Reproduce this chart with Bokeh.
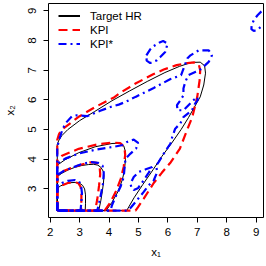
from bokeh.plotting import figure
from bokeh.models import Range1d, Legend, LegendItem, FixedTicker
from bokeh.embed import file_html
from bokeh.resources import INLINE

# grid edges (lower-left corner of the density grid)
XE, YE = 2.24, 2.27

# ---- Target HR (black) contour curves, from left edge to bottom edge ----
b1_x = [2.24, 2.35, 2.51, 2.7, 2.85, 3.0, 3.1, 3.17, 3.2, 3.2, 3.19]
b1_y = [3.02, 3.1, 3.17, 3.21, 3.22, 3.19, 3.12, 3.0, 2.8, 2.5, 2.27]
b2_x = [2.24, 2.4, 2.63, 2.85, 3.08, 3.3, 3.48, 3.62, 3.72, 3.8, 3.83, 3.81, 3.77, 3.72, 3.65]
b2_y = [3.42, 3.53, 3.65, 3.73, 3.79, 3.82, 3.83, 3.8, 3.73, 3.6, 3.45, 3.2, 2.9, 2.6, 2.27]
b3_x = [2.24, 2.5, 2.97, 3.53, 4.1, 4.35, 4.5, 4.56, 4.56, 4.52, 4.45, 4.3, 4.1, 3.9]
b3_y = [3.8, 3.98, 4.22, 4.42, 4.53, 4.54, 4.45, 4.25, 4.0, 3.6, 3.3, 2.9, 2.55, 2.27]
b4_x = [2.24, 2.3, 2.4, 2.6, 3.0, 3.5, 4.1, 4.7, 5.3, 5.9, 6.4, 6.8, 7.1, 7.25, 7.28,
        7.22, 7.1, 6.9, 6.7, 6.45, 6.1, 5.8, 5.5, 5.15, 4.85, 4.6]
b4_y = [4.5, 4.65, 4.8, 5.0, 5.3, 5.6, 5.97, 6.3, 6.62, 6.92, 7.13, 7.26, 7.27, 7.15, 6.9,
        6.5, 6.1, 5.75, 5.4, 5.0, 4.5, 4.1, 3.65, 3.15, 2.7, 2.27]

# ---- KPI (red) contour curves ----
r1_x = [2.24, 2.4, 2.6, 2.8, 2.95, 3.03, 3.06, 3.06, 3.05]
r1_y = [3.0, 3.12, 3.2, 3.23, 3.2, 3.08, 2.9, 2.6, 2.27]
r2_x = [2.24, 2.45, 2.75, 3.1, 3.4, 3.58, 3.68, 3.7, 3.66, 3.6, 3.53]
r2_y = [3.45, 3.6, 3.72, 3.83, 3.9, 3.88, 3.75, 3.5, 3.1, 2.65, 2.27]
r3_x = [2.24, 2.4, 2.97, 3.6, 4.15, 4.38, 4.52, 4.55, 4.5, 4.4, 4.25, 4.05, 3.85]
r3_y = [3.95, 4.12, 4.35, 4.5, 4.56, 4.54, 4.42, 4.15, 3.75, 3.35, 2.95, 2.55, 2.27]
r4_x = [2.24, 2.3, 2.4, 3.0, 3.55, 4.15, 4.4, 4.9, 5.5, 5.86, 6.3, 6.66, 6.9, 7.05, 7.1,
        7.08, 7.0, 6.83, 6.66, 6.41, 6.1, 5.8, 5.52, 5.18, 4.98, 4.9]
r4_y = [4.65, 4.85, 5.0, 5.45, 5.77, 6.07, 6.25, 6.55, 6.86, 7.02, 7.17, 7.24, 7.26, 7.2, 7.0,
        6.66, 6.1, 5.42, 5.0, 4.36, 3.9, 3.55, 3.2, 2.67, 2.38, 2.27]

# ---- KPI* (blue) contour curves ----
u1_x = [2.24, 2.4, 2.6, 2.85, 2.98, 3.05, 3.08, 3.06, 3.03]
u1_y = [3.1, 3.2, 3.27, 3.3, 3.25, 3.12, 2.85, 2.55, 2.27]
u2_x = [2.24, 2.45, 2.75, 3.1, 3.4, 3.62, 3.78, 3.82, 3.8, 3.74, 3.68, 3.6]
u2_y = [3.47, 3.6, 3.72, 3.85, 3.9, 3.88, 3.78, 3.55, 3.2, 2.9, 2.6, 2.27]
u3_x = [2.24, 2.51, 2.97, 3.53, 4.1, 4.44, 4.61, 4.84, 4.99, 4.92, 4.73, 4.56, 4.53, 4.5,
        4.39, 4.22, 4.1, 4.05]
u3_y = [3.85, 4.02, 4.19, 4.32, 4.41, 4.47, 4.58, 4.66, 4.55, 4.36, 4.19, 4.02, 3.74, 3.4,
        3.07, 2.73, 2.45, 2.27]
u4_x = [2.24, 2.3, 2.4, 2.51, 2.74, 2.9, 3.25, 3.5, 3.7, 4.05, 4.33, 4.56, 4.9, 5.52, 6.09,
        6.45, 6.55, 6.66, 6.77, 7.05, 7.39, 7.5, 7.39, 7.27, 7.16, 6.95, 6.7, 6.59, 6.53,
        6.53, 6.4, 6.31, 6.33, 6.53, 6.76, 6.99, 7.02, 6.93, 6.82, 6.53, 6.42, 6.25, 6.15,
        6.09, 5.86, 5.69, 5.6, 5.64, 5.52, 5.35, 5.18, 4.95, 4.75, 4.62]
u4_y = [4.4, 4.65, 4.95, 5.2, 5.45, 5.48, 5.45, 5.55, 5.63, 5.76, 5.84, 5.93, 6.1, 6.4, 6.7,
        6.83, 7.1, 7.39, 7.5, 7.67, 7.67, 7.5, 7.28, 7.17, 7.05, 6.95, 6.83, 6.6, 6.38,
        6.15, 5.95, 5.82, 5.65, 5.65, 5.88, 6.1, 6.0, 5.88, 5.65, 5.42, 5.2, 5.03, 4.75,
        4.53, 4.19, 3.91, 3.78, 3.57, 3.29, 3.12, 2.9, 2.62, 2.38, 2.27]
# separate closed loops
u5_x = [5.47, 5.25, 5.01, 4.84, 4.73, 4.76, 4.84, 4.98, 5.15, 5.35, 5.47]
u5_y = [3.74, 3.66, 3.57, 3.4, 3.18, 3.05, 2.96, 3.02, 3.25, 3.55, 3.74]
u6_x = [5.27, 5.4, 5.5, 5.7, 5.84, 5.99, 5.95, 5.91, 5.75, 5.62, 5.4, 5.28, 5.27]
u6_y = [7.5, 7.7, 7.8, 7.92, 7.98, 7.9, 7.75, 7.61, 7.45, 7.33, 7.24, 7.32, 7.5]
# open arc cut by the grid edge (top right)
u7_x = [9.18, 9.05, 8.93, 8.85, 8.84, 8.92, 9.05, 9.15, 9.2]
u7_y = [8.98, 8.85, 8.7, 8.52, 8.38, 8.32, 8.36, 8.45, 8.52]

x_ticks = [2, 3, 4, 5, 6, 7, 8, 9]
y_ticks = [3, 4, 5, 6, 7, 8, 9]
labels = ["Target HR", "KPI", "KPI*"]
FONT = "Liberation Sans"
NAN = float("nan")


def closed(xs, ys):
    return [XE] + xs + [XE], [YE] + ys + [YE]


p = figure(width=266, height=266, output_backend="svg", toolbar_location=None,
           x_range=Range1d(1.942, 9.252), y_range=Range1d(2.037, 9.246),
           min_border_left=48, min_border_right=3, min_border_top=3, min_border_bottom=49)
p.grid.visible = False
p.outline_line_color = "black"
p.outline_line_alpha = 1
p.outline_line_width = 1
p.background_fill_color = "white"
p.border_fill_color = "white"

for ax in (p.xaxis[0], p.yaxis[0]):
    ax.axis_line_color = None
    ax.major_tick_line_color = "black"
    ax.major_tick_out = 5
    ax.major_tick_in = 0
    ax.minor_tick_line_color = None
    ax.major_label_text_font = FONT
    ax.major_label_text_font_size = "11.5px"
    ax.major_label_text_color = "black"
    ax.axis_label_text_font = FONT
    ax.axis_label_text_font_size = "11.5px"
    ax.axis_label_text_font_style = "normal"
    ax.axis_label_text_color = "black"
p.xaxis.ticker = FixedTicker(ticks=x_ticks)
p.yaxis.ticker = FixedTicker(ticks=y_ticks)
p.yaxis.major_label_orientation = "vertical"
p.xaxis.major_label_standoff = 5
p.yaxis.major_label_standoff = 7
p.xaxis.axis_label = "x\u2081"
p.yaxis.axis_label = "x\u2082"
p.xaxis.axis_label_standoff = 7
p.yaxis.axis_label_standoff = 10

for xs, ys in [(b1_x, b1_y), (b2_x, b2_y), (b3_x, b3_y), (b4_x, b4_y)]:
    cx, cy = closed(xs, ys)
    p.line(cx, cy, line_color="black", line_width=1)

RED_DASH = "9 5"
BLUE_DASH = "8 4 2 4"
for xs, ys in [(r1_x, r1_y), (r2_x, r2_y), (r3_x, r3_y), (r4_x, r4_y)]:
    cx, cy = closed(xs, ys)
    p.line(cx, cy, line_color="red", line_width=2.2, line_dash=RED_DASH)

for xs, ys in [(u1_x, u1_y), (u2_x, u2_y), (u3_x, u3_y), (u4_x, u4_y)]:
    cx, cy = closed(xs, ys)
    p.line(cx, cy, line_color="blue", line_width=2.2, line_dash=BLUE_DASH)
for xs, ys in [(u5_x, u5_y), (u6_x, u6_y), (u7_x, u7_y)]:
    p.line(xs, ys, line_color="blue", line_width=2.2, line_dash=BLUE_DASH)

# legend glyph renderers (a single NaN point: nothing drawn in the plot)
lk = p.line([NAN], [NAN], line_color="black", line_width=2)
lr = p.line([NAN], [NAN], line_color="red", line_width=2.2, line_dash=RED_DASH)
lb = p.line([NAN], [NAN], line_color="blue", line_width=2.2, line_dash=BLUE_DASH)

legend = Legend(items=[LegendItem(label=labels[0], renderers=[lk]),
                       LegendItem(label=labels[1], renderers=[lr]),
                       LegendItem(label=labels[2], renderers=[lb])],
                location=(10, 167), padding=0, margin=0, spacing=1,
                glyph_width=22, glyph_height=13, label_height=13, label_standoff=10,
                label_text_font=FONT, label_text_font_size="11.5px",
                label_text_color="black",
                border_line_color=None, background_fill_alpha=0)
p.add_layout(legend, "center")

open("out.html", "w").write(file_html(p, INLINE))
